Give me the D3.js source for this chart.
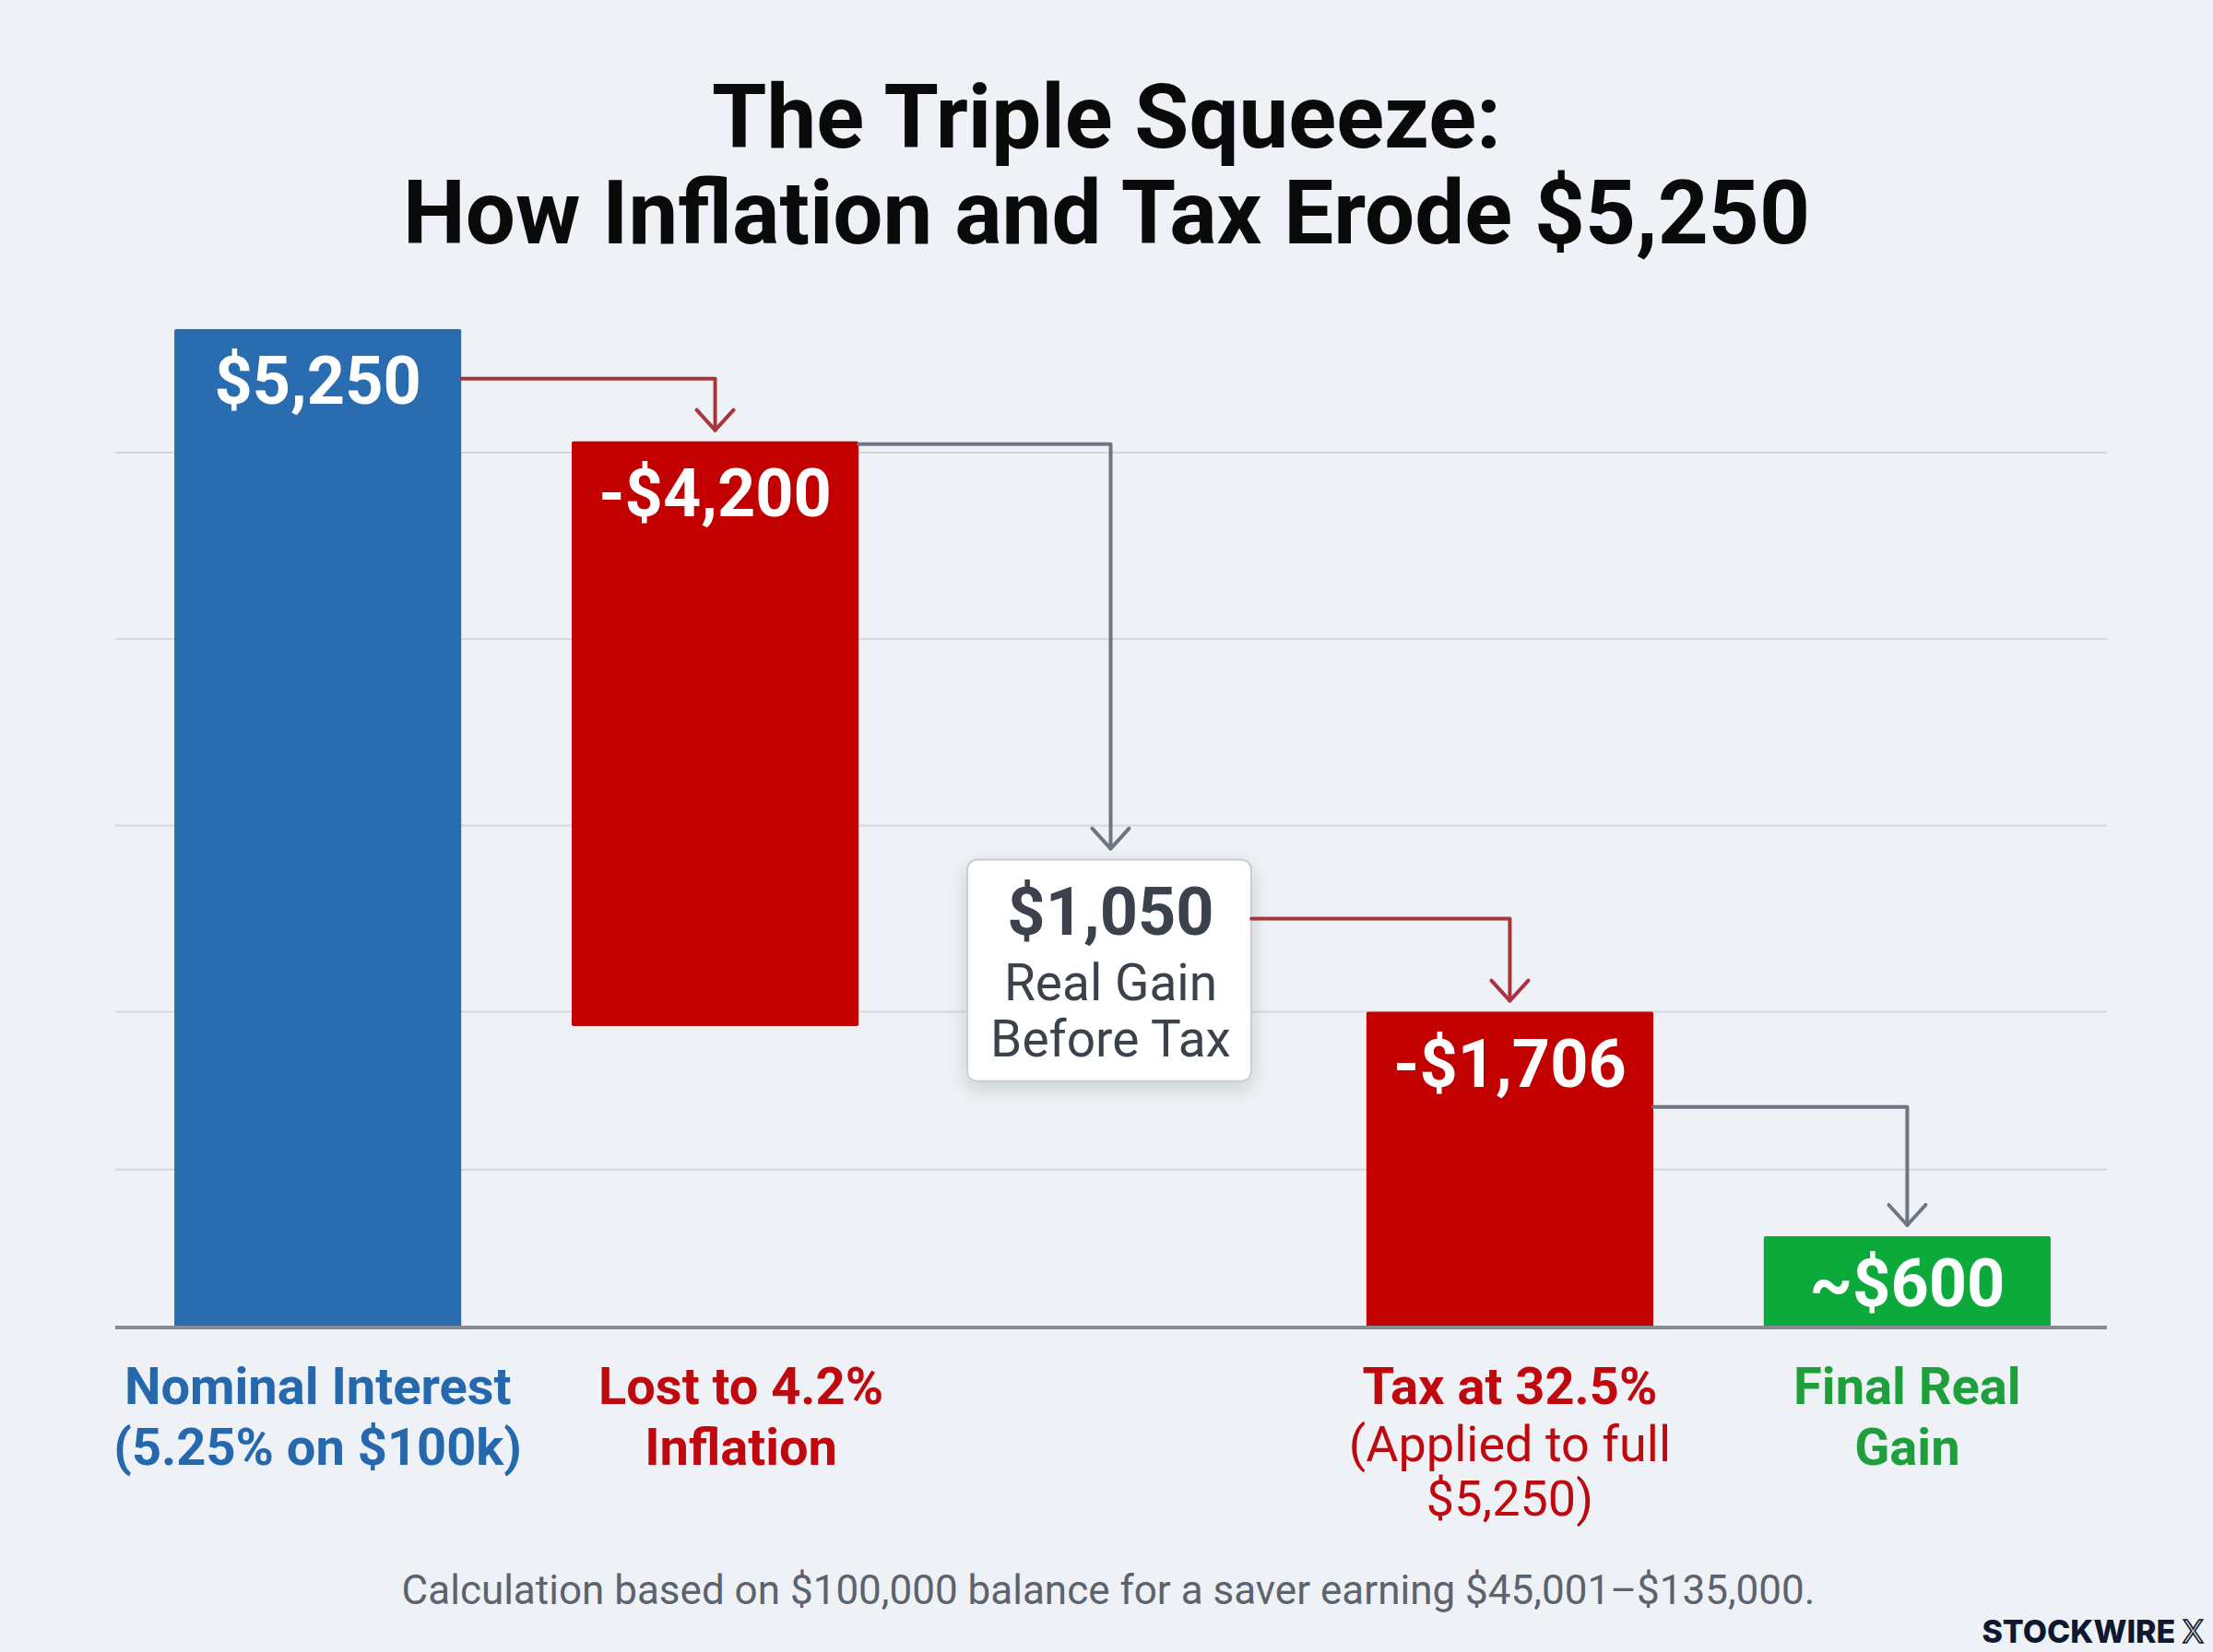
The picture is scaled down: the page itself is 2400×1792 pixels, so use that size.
<!DOCTYPE html>
<html>
<head>
<meta charset="utf-8">
<script src="https://cdn.jsdelivr.net/npm/d3@7"></script>
<style>
  html, body { margin: 0; padding: 0; background: #eef1f5; }
  svg { display: block; font-family: Roboto, "Noto Sans", sans-serif; }
</style>
</head>
<body>
<div class="chart-wrapper"></div>
<script>
// values (the drawing is illustrative, not to scale)
const categories = ['nominal', 'inflation', 'realBeforeTax', 'tax', 'final']
const kinds = ['total', 'loss', 'callout', 'loss', 'result']
const valueLabels = ['$5,250', '-$4,200', '$1,050', '-$1,706', '~$600']
const barTops = [5250, 4660, 2460, 1660, 480]
const barBottoms = [0, 1585, 1295, 0, 0]
const linkLevels = [4990, 4645, 2150, 1160]
const gridValues = [4600, 3620, 2640, 1660, 830]
const categoryLines = [
  ['Nominal Interest', '(5.25% on $100k)'],
  ['Lost to 4.2%', 'Inflation'],
  [],
  ['Tax at 32.5%'],
  ['Final Real', 'Gain']
]
const categoryNotes = [[], [], [], ['(Applied to full', '$5,250)'], []]
const calloutLines = ['Real Gain', 'Before Tax']
const titleLines = ['The Triple Squeeze:', 'How Inflation and Tax Erode $5,250']
const footnote = 'Calculation based on $100,000 balance for a saver earning $45,001\u2013$135,000.'

const width = 2400
const height = 1792

const fills = { total: '#2a6cb0', loss: '#c20000', result: '#0ca93b' }
const textColors = { total: '#2668ad', loss: '#be0a0e', result: '#1f9e3c' }

const svg = d3.select('.chart-wrapper')
.append('svg')
.attr('width', width)
.attr('height', height)

svg.append('rect')
.attr('width', width)
.attr('height', height)
.attr('fill', '#eef1f5')

const x = d3.scaleBand()
.domain(categories)
.range([127, 2286])
.paddingInner(0.278)
.paddingOuter(0.144)

const y = d3.scaleLinear()
.domain([0, 5250])
.range([1440, 357])

// title
svg.append('g')
.selectAll('text')
.data(titleLines)
.enter()
.append('text')
.attr('x', width / 2)
.attr('y', (d, i) => 160 + i * 104)
.attr('text-anchor', 'middle')
.attr('font-size', 96)
.attr('font-weight', 700)
.attr('fill', '#0a0a0a')
.text(d => d)

// gridlines
svg.append('g')
.selectAll('line')
.data(gridValues)
.enter()
.append('line')
.attr('x1', 125)
.attr('x2', 2285)
.attr('y1', d => y(d))
.attr('y2', d => y(d))
.attr('stroke', '#d3d7dd')
.attr('stroke-width', 2)

const defs = svg.append('defs')
const shadow = defs.append('filter')
.attr('id', 'shadow')
.attr('x', '-30%').attr('y', '-30%')
.attr('width', '160%').attr('height', '170%')
shadow.append('feDropShadow')
.attr('dx', 0).attr('dy', 8)
.attr('stdDeviation', 10)
.attr('flood-color', '#1c2430')
.attr('flood-opacity', 0.16)

const items = categories.map((c, i) => ({
  key: c,
  kind: kinds[i],
  label: valueLabels[i],
  top: barTops[i],
  bottom: barBottoms[i]
}))

// bars
const bars = svg.append('g')

bars.selectAll('rect')
.data(items.filter(d => d.kind !== 'callout'))
.enter()
.append('rect')
.attr('x', d => x(d.key))
.attr('y', d => y(d.top))
.attr('width', x.bandwidth())
.attr('height', d => y(d.bottom) - y(d.top))
.attr('rx', 2)
.attr('fill', d => fills[d.kind])

bars.selectAll('text')
.data(items.filter(d => d.kind !== 'callout'))
.enter()
.append('text')
.attr('x', d => x(d.key) + x.bandwidth() / 2)
.attr('y', d => Math.min(y(d.top) + 81, y(d.bottom) - 23))
.attr('text-anchor', 'middle')
.attr('font-size', 72)
.attr('font-weight', 700)
.attr('fill', '#ffffff')
.text(d => d.label)

// callout box
const callout = items.find(d => d.kind === 'callout')
const cx = x(callout.key) - 2
const cg = svg.append('g')

cg.append('rect')
.attr('x', cx)
.attr('y', y(callout.top))
.attr('width', x.bandwidth() - 3)
.attr('height', y(callout.bottom) - y(callout.top))
.attr('rx', 11)
.attr('fill', '#ffffff')
.attr('stroke', '#c9cdd3')
.attr('stroke-width', 2)
.attr('filter', 'url(#shadow)')

cg.append('text')
.attr('x', cx + x.bandwidth() / 2)
.attr('y', y(callout.top) + 81)
.attr('text-anchor', 'middle')
.attr('font-size', 72)
.attr('font-weight', 700)
.attr('fill', '#3b424c')
.text(callout.label)

cg.selectAll('text.sub')
.data(calloutLines)
.enter()
.append('text')
.attr('class', 'sub')
.attr('x', cx + x.bandwidth() / 2)
.attr('y', (d, i) => y(callout.top) + 152 + i * 61)
.attr('text-anchor', 'middle')
.attr('font-size', 55)
.attr('fill', '#3b424c')
.text(d => d)

// connectors
const links = d3.pairs(items).map((p, i) => ({ from: p[0], to: p[1], level: linkLevels[i] }))

const lg = svg.append('g')
.attr('fill', 'none')
.attr('stroke-width', 4)
.attr('stroke-linejoin', 'round')
.attr('stroke-linecap', 'round')

links.forEach(l => {
  const x0 = l.from.kind === 'callout' ? cx + x.bandwidth() - 3 : x(l.from.key) + x.bandwidth()
  const x1 = l.to.kind === 'callout' ? cx + x.bandwidth() / 2 : x(l.to.key) + x.bandwidth() / 2
  const y0 = y(l.level)
  const tip = y(l.to.top) - 12
  const colour = l.to.kind === 'loss' ? '#a8343d' : '#6e7682'

  lg.append('path')
  .attr('d', d3.line()([[x0, y0], [x1, y0], [x1, tip]]))
  .attr('stroke', colour)

  lg.append('path')
  .attr('d', d3.line()([[x1 - 20, tip - 22], [x1, tip], [x1 + 20, tip - 22]]))
  .attr('stroke', colour)
})

// baseline
svg.append('line')
.attr('x1', 125)
.attr('x2', 2285)
.attr('y1', y(0))
.attr('y2', y(0))
.attr('stroke', '#878c94')
.attr('stroke-width', 4)

// category labels
const labels = svg.append('g')

items.forEach((d, i) => {
  const shift = d.key === 'inflation' ? 28 : 0
  const lx = x(d.key) + x.bandwidth() / 2 + shift
  const lines = categoryLines[i]
  const colour = textColors[d.kind]

  lines.forEach((t, j) => {
    labels.append('text')
    .attr('x', lx)
    .attr('y', 1523 + j * 66)
    .attr('text-anchor', 'middle')
    .attr('font-size', 56)
    .attr('font-weight', 700)
    .attr('fill', colour)
    .text(t)
  })

  categoryNotes[i].forEach((t, j) => {
    labels.append('text')
    .attr('x', lx)
    .attr('y', 1523 + (lines.length - 1) * 66 + 62 + j * 59)
    .attr('text-anchor', 'middle')
    .attr('font-size', 54)
    .attr('font-weight', 400)
    .attr('fill', colour)
    .text(t)
  })
})

// footnote
svg.append('text')
.attr('x', width / 2 + 2)
.attr('y', 1740)
.attr('text-anchor', 'middle')
.attr('font-size', 44)
.attr('fill', '#5c636d')
.text(footnote)

// brand mark
const brand = svg.append('text')
.attr('x', 2390)
.attr('y', 1782)
.attr('text-anchor', 'end')
.attr('font-family', 'Inter, "Noto Sans", sans-serif')
.attr('font-size', 34)
.attr('font-weight', 800)
.attr('fill', '#0e1830')

brand.append('tspan').text('STOCKWIRE ')
brand.append('tspan')
.attr('fill', 'none')
.attr('stroke', '#0e1830')
.attr('stroke-width', 1.6)
.attr('font-weight', 400)
.text('X')
</script>
</body>
</html>
